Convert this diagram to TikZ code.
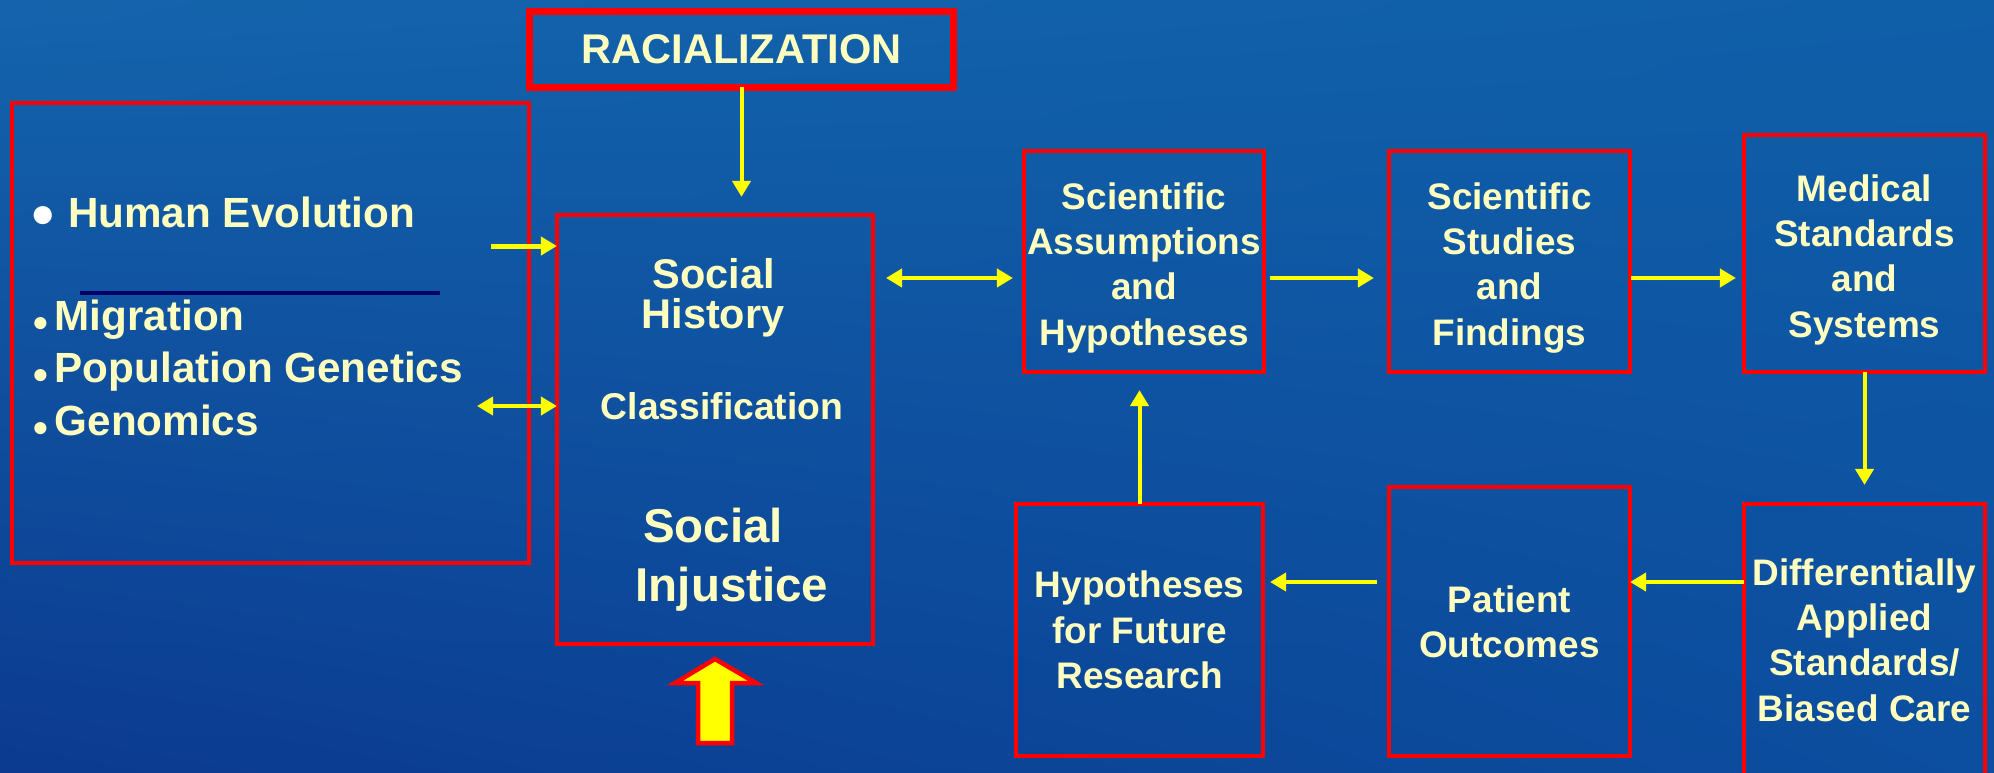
\documentclass[tikz,border=0pt]{standalone}
\usepackage{fontspec}
\setmainfont{Liberation Sans}
\usetikzlibrary{arrows.meta,shadings}
\definecolor{boxred}{HTML}{FF0000}
\definecolor{paleyellow}{HTML}{FFFFC0}
\definecolor{arrowyellow}{HTML}{FFFF00}
\definecolor{navyline}{HTML}{000066}
\definecolor{bgul}{HTML}{1464AC}
\definecolor{bgur}{HTML}{0F5EA8}
\definecolor{bgll}{HTML}{0B3A90}
\definecolor{bglr}{HTML}{0C4E9F}
\newcommand{\topgap}{\rule{0pt}{0.39cm}}
\begin{document}
\begin{tikzpicture}[x=0.01cm,y=-0.01cm]
    \tikzstyle{every node}+=[inner sep=0pt, outer sep=0pt, text=paleyellow, font=\bfseries]
    \tikzstyle{box}=[draw=boxred, line width=0.04cm, align=center, font=\bfseries\fontsize{10.5}{12.9}\selectfont]
    \tikzstyle{item}=[anchor=base west, font=\bfseries\fontsize{12}{14}\selectfont]
    \tikzstyle{arr}=[draw=arrowyellow, line width=0.04cm, -{Triangle[length=0.16cm,width=0.18cm]}]
    \tikzstyle{darr}=[arr, {Triangle[length=0.16cm,width=0.18cm]}-{Triangle[length=0.16cm,width=0.18cm]}]
    \shade [upper left=bgul, upper right=bgur, lower left=bgll, lower right=bglr] (0,0) rectangle (1994,772);
    \useasboundingbox (0,0) rectangle (1994,772);
    \node [box, line width=0.07cm, minimum width=4.23cm, minimum height=0.75cm, font=\bfseries\fontsize{11.8}{14}\selectfont] (rac) at (741.5,49.5) {RACIALIZATION};
    \node [box, minimum width=5.17cm, minimum height=4.6cm] (lft) at (270.5,333) {};
    \node [box, minimum width=3.16cm, minimum height=4.29cm] (mid) at (715,429.5) {};
    \node [box, minimum width=2.40cm, minimum height=2.21cm] (asm) at (1144,261.5) {\topgap Scientific\\Assumptions\\and\\Hypotheses};
    \node [box, minimum width=2.41cm, minimum height=2.21cm] (std) at (1509.5,261.5) {\topgap Scientific\\Studies\\and\\Findings};
    \node [box, minimum width=2.41cm, minimum height=2.37cm] (med) at (1864.5,253.5) {\topgap Medical\\Standards\\and\\Systems};
    \node [box, minimum width=2.47cm, minimum height=2.52cm] (hyp) at (1139.5,630) {Hypotheses\\for Future\\Research};
    \node [box, minimum width=2.41cm, minimum height=2.69cm] (pat) at (1509.5,621.5) {Patient\\Outcomes};
    \node [box, minimum width=2.41cm, minimum height=2.72cm] (dif) at (1864.5,640) {Differentially\\Applied\\Standards/\\Biased Care};
    \node [item] (evo) at (31,227) {\textcolor{white}{●}\ Human Evolution};
    \node [item] (mig) at (33,330) {\raisebox{-0.07cm}{•}\hspace{0.07cm}Migration};
    \node [item] (pop) at (33,382) {\raisebox{-0.07cm}{•}\hspace{0.07cm}Population Genetics};
    \node [item] (gen) at (33,435) {\raisebox{-0.07cm}{•}\hspace{0.07cm}Genomics};
    \draw [line width=0.035cm, navyline] (80,293) -- (440,293);
    \node [anchor=base, font=\bfseries\fontsize{11.8}{14}\selectfont] (soc) at (714,288) {Social};
    \node [anchor=base, font=\bfseries\fontsize{11.8}{14}\selectfont] (his) at (713,328) {History};
    \node [anchor=base, font=\bfseries\fontsize{10.6}{13}\selectfont] (cls) at (722,419) {Classification};
    \node [anchor=base, font=\bfseries\fontsize{13.5}{16}\selectfont] (soc2) at (713,542) {Social};
    \node [anchor=base, font=\bfseries\fontsize{13.5}{16}\selectfont] (inj) at (732,601) {Injustice};
    \coordinate (evoin) at (491,246);
    \coordinate (genin) at (477,406);
    \coordinate (upper) at (886,278);
    \coordinate (lower) at (1377,582);
    \draw [arr, shorten >=0.18cm] (rac.south) -- (rac.south |- mid.north);
    \draw [arr, line width=0.05cm] (evoin) -- (evoin -| mid.west);
    \draw [darr] (genin) -- (genin -| mid.west);
    \draw [darr] (upper) -- ([xshift=-0.11cm]upper -| asm.west);
    \draw [arr, shorten <=0.06cm, shorten >=0.15cm] (upper -| asm.east) -- (upper -| std.west);
    \draw [arr, shorten <=0.01cm, shorten >=0.08cm] (upper -| std.east) -- (upper -| med.west);
    \draw [arr, shorten >=0.19cm] (med.south) -- (med.south |- dif.north);
    \draw [arr] (dif.west |- lower) -- (lower -| pat.east);
    \draw [arr, shorten >=0.07cm] (lower) -- (lower -| hyp.east);
    \draw [arr, shorten >=0.18cm] (hyp.north) -- (hyp.north |- asm.south);
    \draw [draw=boxred, fill=arrowyellow, line width=0.045cm] (715,659) -- (756,683) -- (732,683) -- (732,743) -- (698,743) -- (698,683) -- (675,683) -- cycle;
\end{tikzpicture}
\end{document}
